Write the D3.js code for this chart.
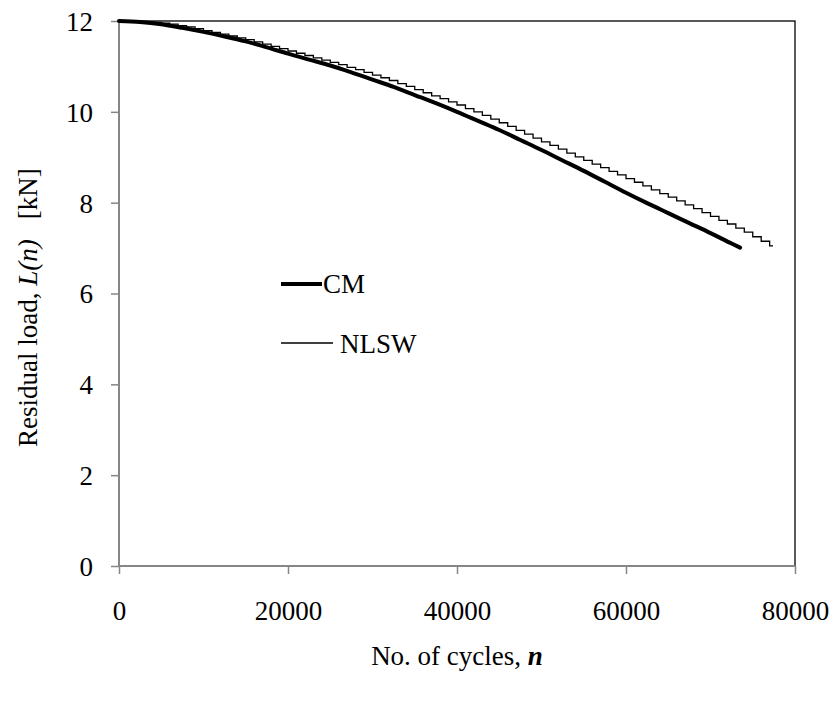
<!DOCTYPE html>
<html>
<head>
<meta charset="utf-8">
<script src="https://cdn.jsdelivr.net/npm/d3@7"></script>
<style>
  html, body { margin: 0; padding: 0; background: #fff; }
  svg text { font-family: "Liberation Serif", "Times New Roman", serif; fill: #000; }
</style>
</head>
<body>
<svg id="chart" width="836" height="702"></svg>
<script>
// ---- Data ----
const xTicks = [0, 20000, 40000, 60000, 80000];
const yTicks = [0, 2, 4, 6, 8, 10, 12];

// CM (continuous model) curve
const cmCycles = [0, 2500, 5000, 7500, 10000, 12500, 15000, 17500, 20000, 22500, 25000, 27500,
  30000, 32500, 35000, 37500, 40000, 42500, 45000, 47500, 50000, 52500, 55000, 57500,
  60000, 62500, 65000, 67500, 70000, 72500, 73500];
const cmLoad = [12.00, 11.98, 11.93, 11.85, 11.76, 11.66, 11.55, 11.42, 11.28, 11.15, 11.02, 10.87,
  10.71, 10.55, 10.37, 10.19, 10.00, 9.80, 9.60, 9.38, 9.16, 8.93, 8.70, 8.46,
  8.22, 7.99, 7.77, 7.55, 7.33, 7.10, 7.01];

// NLSW (stepwise) curve, one value per 1000-cycle block
const nlswCycles = [0, 1000, 2000, 3000, 4000, 5000, 6000, 7000, 8000, 9000,
  10000, 11000, 12000, 13000, 14000, 15000, 16000, 17000, 18000, 19000,
  20000, 21000, 22000, 23000, 24000, 25000, 26000, 27000, 28000, 29000,
  30000, 31000, 32000, 33000, 34000, 35000, 36000, 37000, 38000, 39000,
  40000, 41000, 42000, 43000, 44000, 45000, 46000, 47000, 48000, 49000,
  50000, 51000, 52000, 53000, 54000, 55000, 56000, 57000, 58000, 59000,
  60000, 61000, 62000, 63000, 64000, 65000, 66000, 67000, 68000, 69000,
  70000, 71000, 72000, 73000, 74000, 75000, 76000, 77000, 77400];
const nlswLoad = [12.00, 12.00, 11.99, 11.98, 11.97, 11.95, 11.93, 11.90, 11.87, 11.83,
  11.79, 11.75, 11.71, 11.67, 11.63, 11.59, 11.54, 11.49, 11.44, 11.39,
  11.34, 11.29, 11.24, 11.19, 11.14, 11.09, 11.04, 10.98, 10.93, 10.87,
  10.81, 10.75, 10.69, 10.62, 10.56, 10.49, 10.42, 10.35, 10.29, 10.22,
  10.15, 10.07, 10.00, 9.92, 9.84, 9.76, 9.68, 9.59, 9.51, 9.42,
  9.34, 9.26, 9.18, 9.09, 9.01, 8.93, 8.85, 8.77, 8.69, 8.61,
  8.53, 8.45, 8.37, 8.28, 8.20, 8.12, 8.04, 7.95, 7.87, 7.78,
  7.70, 7.61, 7.53, 7.44, 7.35, 7.25, 7.15, 7.05, 7.05];

const seriesNames = ["CM", "NLSW"];

// ---- Layout ----
const svg = d3.select("#chart");
const mLeft = 119, mRight = 795, mTop = 21, mBottom = 566;
const FS = 27;        // font size

const x = d3.scaleLinear().domain([0, 80000]).range([mLeft, mRight]);
const y = d3.scaleLinear().domain([0, 12]).range([mBottom, mTop]);

// Plot-area border (black), axes drawn over it in grey
svg.append("rect")
  .attr("x", mLeft).attr("y", mTop)
  .attr("width", mRight - mLeft).attr("height", mBottom - mTop)
  .attr("fill", "none").attr("stroke", "#000").attr("stroke-width", 1.3);

const axisColor = "#868686";

const yAxis = svg.append("g")
  .attr("transform", `translate(${mLeft},0)`)
  .call(d3.axisLeft(y).tickValues(yTicks).tickSize(8).tickPadding(18).tickFormat(d3.format("d")));
const xAxis = svg.append("g")
  .attr("transform", `translate(0,${mBottom})`)
  .call(d3.axisBottom(x).tickValues(xTicks).tickSize(8).tickPadding(27).tickFormat(d3.format("d")));

[yAxis, xAxis].forEach(g => {
  g.select(".domain").attr("stroke", axisColor).attr("stroke-width", 2);
  g.selectAll(".tick line").attr("stroke", axisColor).attr("stroke-width", 1.5);
  g.selectAll(".tick text")
    .style("font-family", '"Liberation Serif", "Times New Roman", serif')
    .style("font-size", FS + "px").attr("fill", "#000");
});
yAxis.selectAll(".tick text").attr("dy", "0.35em");
xAxis.select(".domain").attr("d", `M${mLeft},0H${mRight}`);
yAxis.select(".domain").attr("d", `M0,${mBottom}V${mTop}`);

// ---- Lines ----
const cmData = cmCycles.map((c, i) => [c, cmLoad[i]]);
const nlswData = nlswCycles.map((c, i) => [c, nlswLoad[i]]);

svg.append("path")
  .datum(nlswData)
  .attr("fill", "none").attr("stroke", "#000").attr("stroke-width", 1.3)
  .attr("d", d3.line().x(d => x(d[0])).y(d => y(d[1])).curve(d3.curveStepAfter));

svg.append("path")
  .datum(cmData)
  .attr("fill", "none").attr("stroke", "#000").attr("stroke-width", 4)
  .attr("stroke-linecap", "round").attr("stroke-linejoin", "round")
  .attr("d", d3.line().x(d => x(d[0])).y(d => y(d[1])).curve(d3.curveMonotoneX));

// ---- Legend ----
const legend = svg.append("g");
legend.append("line").attr("x1", 281).attr("x2", 322).attr("y1", 284).attr("y2", 284)
  .attr("stroke", "#000").attr("stroke-width", 4);
legend.append("text").attr("x", 323).attr("y", 293)
  .style("font-size", FS + "px").text(seriesNames[0]);
legend.append("line").attr("x1", 281).attr("x2", 333).attr("y1", 343).attr("y2", 343)
  .attr("stroke", "#000").attr("stroke-width", 1.3);
legend.append("text").attr("x", 340).attr("y", 353)
  .style("font-size", FS + "px").text(seriesNames[1]);

// ---- Axis titles ----
const xt = svg.append("text")
  .attr("x", (mLeft + mRight) / 2).attr("y", 665)
  .attr("text-anchor", "middle").style("font-size", FS + "px");
xt.append("tspan").text("No. of cycles, ");
xt.append("tspan").style("font-style", "italic").style("font-weight", "bold").text("n");

const yt = svg.append("text")
  .attr("transform", `translate(37,447) rotate(-90)`)
  .attr("text-anchor", "start").style("font-size", FS + "px");
yt.append("tspan").text("Residual load, ");
yt.append("tspan").style("font-style", "italic").text("L(n)");
yt.append("tspan").attr("dx", 20).text("[kN]");
</script>
</body>
</html>
